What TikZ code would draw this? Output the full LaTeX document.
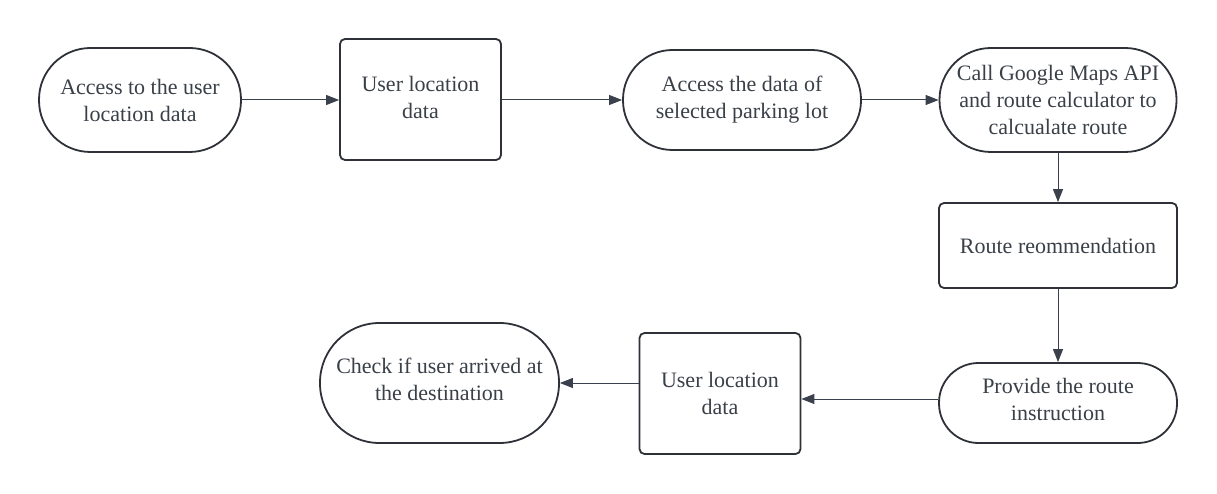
\documentclass[tikz,border=0pt]{standalone}
\usepackage{fontspec}
\setmainfont{Liberation Serif}
\usetikzlibrary{arrows.meta}
\definecolor{ink}{HTML}{2E3238}
\definecolor{txt}{HTML}{3A4048}
\definecolor{arr}{HTML}{3A414C}
\begin{document}
\begin{tikzpicture}[x=1pt,y=-1pt,
  base/.style={draw=ink, line width=1.8pt, fill=white, inner sep=0pt, align=center,
    text=txt, font=\fontsize{22}{27}\selectfont},
  stadium/.style={base},
  procbox/.style={base, rounded corners=5pt},
  conn/.style={draw=arr, line width=1pt, -{Triangle[length=13pt,width=10pt]}}]
\useasboundingbox (0,0) rectangle (1217,494);
\node[stadium, minimum width=202pt, minimum height=104pt, rounded corners=51.5pt] (n1) at (140,100) {Access to the user\\location data};
\node[procbox, minimum width=161pt, minimum height=121pt] (n2) at (420.5,99.5) {};
\node[text=txt, font=\fontsize{22}{27}\selectfont, align=center, inner sep=0pt] (t2) at (420.5,97) {User location\\data};
\node[stadium, minimum width=238pt, minimum height=100pt, rounded corners=49.5pt] (n3) at (742,100) {Access the data of\\selected parking lot};
\node[stadium, minimum width=237pt, minimum height=104pt, rounded corners=51.5pt] (n4) at (1058,100) {Call Google Maps API\\and route calculator to\\calcualate route};
\node[procbox, minimum width=238pt, minimum height=85pt] (n5) at (1058,245.5) {Route reommendation};
\node[stadium, minimum width=238pt, minimum height=80pt, rounded corners=39.5pt] (n6) at (1058,403) {};
\node[text=txt, font=\fontsize{22}{27}\selectfont, align=center, inner sep=0pt] (t6) at (1058,399) {Provide the route\\instruction};
\node[procbox, minimum width=161pt, minimum height=121pt] (n7) at (720,393.5) {User location\\data};
\node[stadium, minimum width=239pt, minimum height=120pt, rounded corners=59.5pt] (n8) at (439.5,383) {};
\node[text=txt, font=\fontsize{22}{27}\selectfont, align=center, inner sep=0pt] (t8) at (439.5,379) {Check if user arrived at\\the destination};
\draw[conn] (n1.east) -- (n2.west |- n1.east);
\draw[conn] (n2.east |- n3.west) -- (n3.west);
\draw[conn] (n3.east) -- (n4.west);
\draw[conn] (n4.south) -- (n5.north);
\draw[conn] (n5.south) -- (n6.north);
\draw[conn] ([yshift=4pt]n6.west) -- ([yshift=4pt]n6.west -| n7.east);
\draw[conn] (n8.east -| n7.west) -- (n8.east);
\end{tikzpicture}
\end{document}
